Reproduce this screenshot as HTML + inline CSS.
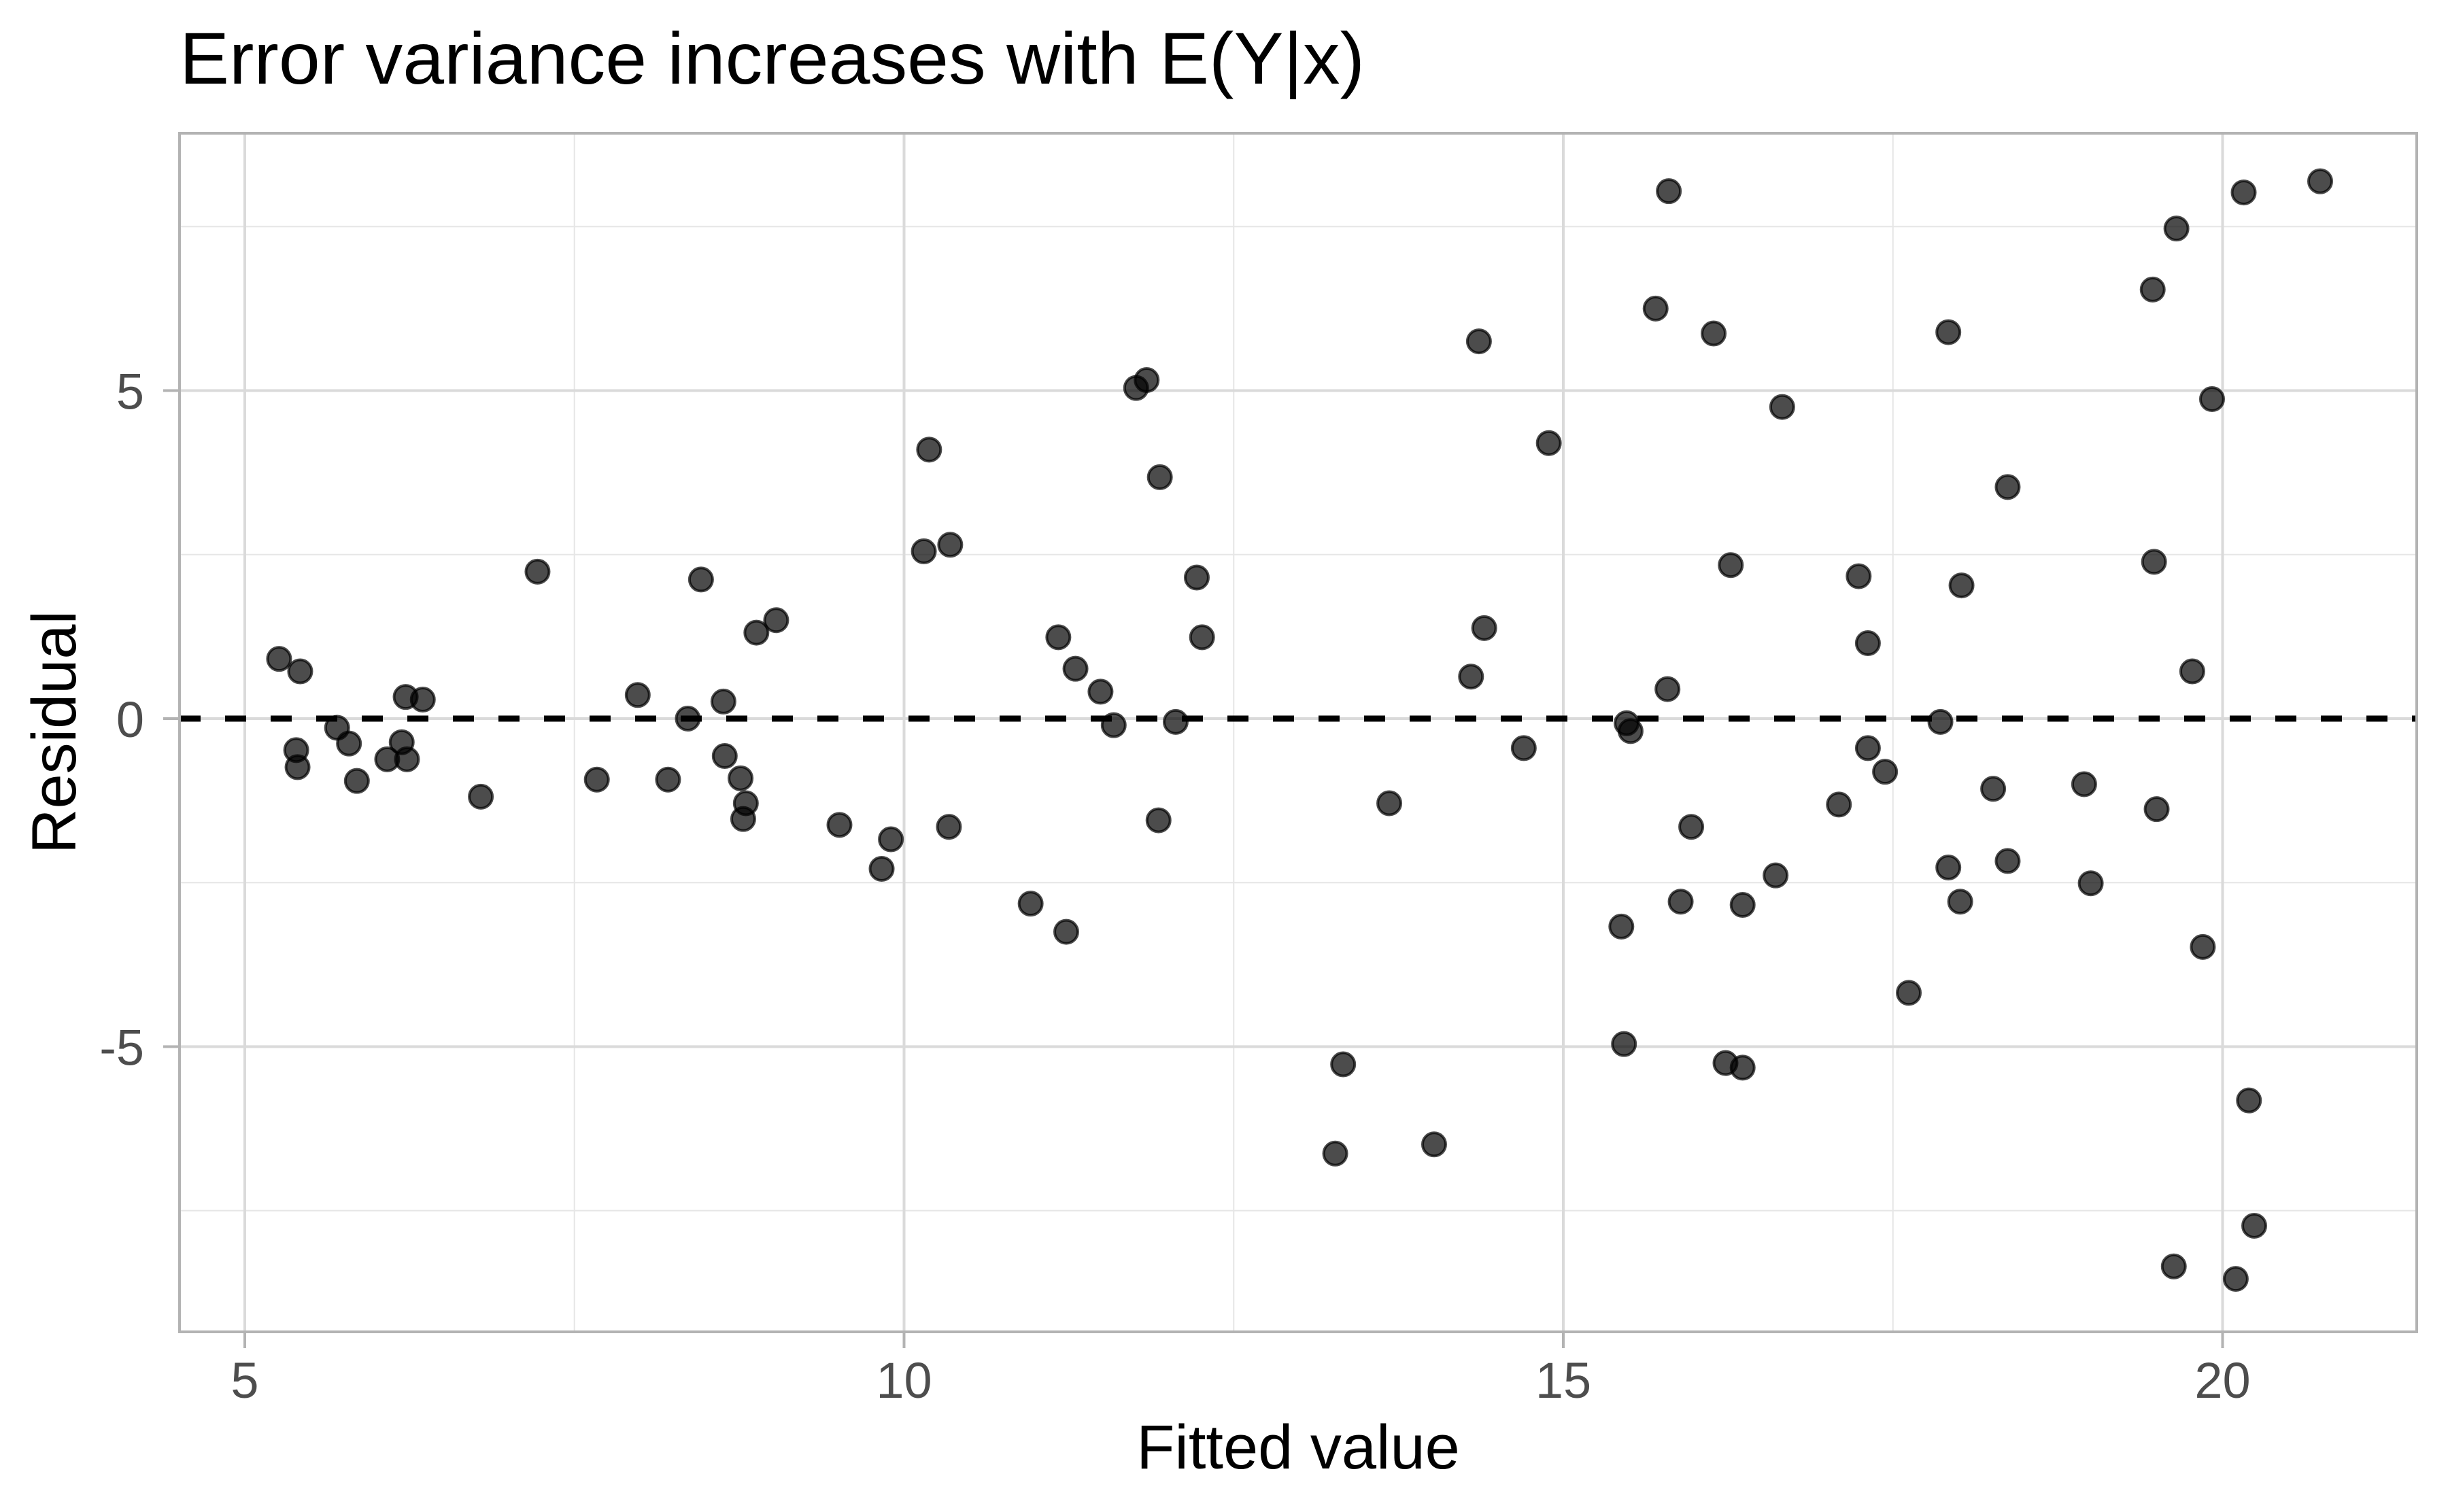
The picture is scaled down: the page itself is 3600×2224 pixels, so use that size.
<!DOCTYPE html>
<html><head><meta charset="utf-8"><style>
html,body{margin:0;padding:0;background:#fff;}
svg{display:block;font-family:"Liberation Sans",Arial,sans-serif;}
</style></head><body>
<svg id="chart" width="3600" height="2224" viewBox="0 0 3600 2224" xmlns="http://www.w3.org/2000/svg">
<rect x="0" y="0" width="3600" height="2224" fill="#fff"/>
<text x="264" y="123" font-size="108" fill="#000" textLength="1743" lengthAdjust="spacingAndGlyphs">Error variance increases with E(Y|x)</text>
<g id="grid"></g>
<g id="refline"></g>
<g id="points"></g>
<rect x="264" y="196" width="3290" height="1763" fill="none" stroke="#b3b3b3" stroke-width="4"/>
<g id="axes"></g>
<text x="1909" y="2160" font-size="92" text-anchor="middle" fill="#000">Fitted value</text>
<text transform="translate(111,1077) rotate(-90)" font-size="92" text-anchor="middle" fill="#000">Residual</text>
</svg>
<script>
const xTicks = [5, 10, 15, 20];
const xTickLabels = ["5", "10", "15", "20"];
const xMinor = [7.5, 12.5, 17.5];
const yTicks = [-5, 0, 5];
const yTickLabels = ["-5", "0", "5"];
const yMinor = [-7.5, -2.5, 2.5, 7.5];
const fittedValues = [5.26,5.42,5.39,5.40,5.70,5.79,5.85,6.08,6.19,6.22,6.23,6.35,6.79,7.22,7.67,7.98,8.21,8.36,8.46,8.63,8.64,8.76,8.80,8.78,8.88,9.03,9.51,9.83,9.90,10.15,10.19,10.35,10.34,10.96,11.17,11.23,11.30,11.49,11.59,11.76,11.84,11.94,11.93,12.06,12.22,12.26,13.27,13.33,13.68,14.02,14.30,14.36,14.40,14.70,14.89,15.44,15.46,15.48,15.51,15.70,15.79,15.80,15.89,15.97,16.14,16.23,16.27,16.36,16.36,16.61,16.66,17.09,17.24,17.31,17.31,17.44,17.62,17.86,17.92,17.92,18.02,18.01,18.26,18.37,18.37,18.95,19.00,19.47,19.48,19.50,19.63,19.65,19.77,19.85,19.92,20.10,20.16,20.20,20.24,20.74];
const residuals = [0.91,0.72,-0.48,-0.74,-0.14,-0.38,-0.95,-0.62,-0.36,0.33,-0.62,0.29,-1.19,2.24,-0.93,0.36,-0.93,0.0,2.12,0.26,-0.57,-0.91,-1.29,-1.53,1.31,1.50,-1.62,-2.29,-1.84,2.55,4.10,2.65,-1.65,-2.82,1.24,-3.25,0.76,0.41,-0.10,5.04,5.16,3.68,-1.55,-0.05,2.15,1.24,-6.63,-5.27,-1.29,-6.49,0.64,5.75,1.38,-0.45,4.20,-3.17,-4.96,-0.07,-0.19,6.25,0.45,8.04,-2.79,-1.65,5.87,-5.25,2.34,-5.32,-2.84,-2.39,4.75,-1.31,2.17,1.15,-0.45,-0.81,-4.18,-0.05,5.89,-2.27,2.03,-2.79,-1.07,3.53,-2.17,-1.00,-2.51,6.54,2.39,-1.38,-8.35,7.47,0.72,-3.48,4.87,-8.54,8.02,-5.82,-7.73,8.19];

const NS = "http://www.w3.org/2000/svg";
const PL = 264, PR = 3554, PT = 196, PB = 1959;
function xs(v){ return 360 + (v - 5) * 193.9; }
function ys(v){ return 1057 - v * 96.5; }
function mk(tag, attrs, parent){ const e = document.createElementNS(NS, tag); for (const k in attrs) e.setAttribute(k, attrs[k]); parent.appendChild(e); return e; }

const grid = document.getElementById('grid');
xMinor.forEach(v => { const l = mk('line', {x1:xs(v), x2:xs(v), y1:PT, y2:PB, stroke:'#e6e6e6', 'stroke-width':2}, grid);
  
   });
yMinor.forEach(v => { const l = mk('line', {x1:PL, x2:PR, y1:ys(v), y2:ys(v), stroke:'#e6e6e6', 'stroke-width':2}, grid);
  
   });
xTicks.forEach(v => { const l = mk('line', {x1:xs(v), x2:xs(v), y1:PT, y2:PB, stroke:'#dadada', 'stroke-width':4}, grid);
  
   });
yTicks.forEach(v => { const l = mk('line', {x1:PL, x2:PR, y1:ys(v), y2:ys(v), stroke:'#dadada', 'stroke-width':4}, grid);
  
   });

const ref = document.getElementById('refline');
const rl = mk('line', {x1:PL, x2:PR, y1:ys(0), y2:ys(0), stroke:'#000', 'stroke-width':9, 'stroke-dasharray':'31 36'}, ref);



const pts = document.getElementById('points');
fittedValues.forEach((fv, i) => {
  const c = mk('circle', {cx:xs(fv), cy:ys(residuals[i]), r:17, fill:'rgba(0,0,0,0.7)', stroke:'rgba(0,0,0,0.7)', 'stroke-width':4}, pts);
  
  
});

const axes = document.getElementById('axes');
xTicks.forEach((v, i) => {
  const t = mk('line', {x1:xs(v), x2:xs(v), y1:PB, y2:PB+24, stroke:'#b3b3b3', 'stroke-width':4}, axes);
  
  
  const lb = mk('text', {x:xs(v), y:2056, 'font-size':74, 'text-anchor':'middle', fill:'#4d4d4d'}, axes);
  lb.textContent = xTickLabels[i];
  
  
});
yTicks.forEach((v, i) => {
  const t = mk('line', {x1:PL-24, x2:PL, y1:ys(v), y2:ys(v), stroke:'#b3b3b3', 'stroke-width':4}, axes);
  
  
  const lb = mk('text', {x:212, y:ys(v)+27, 'font-size':74, 'text-anchor':'end', fill:'#4d4d4d'}, axes);
  lb.textContent = yTickLabels[i];
  
  
});
</script>
</body></html>
